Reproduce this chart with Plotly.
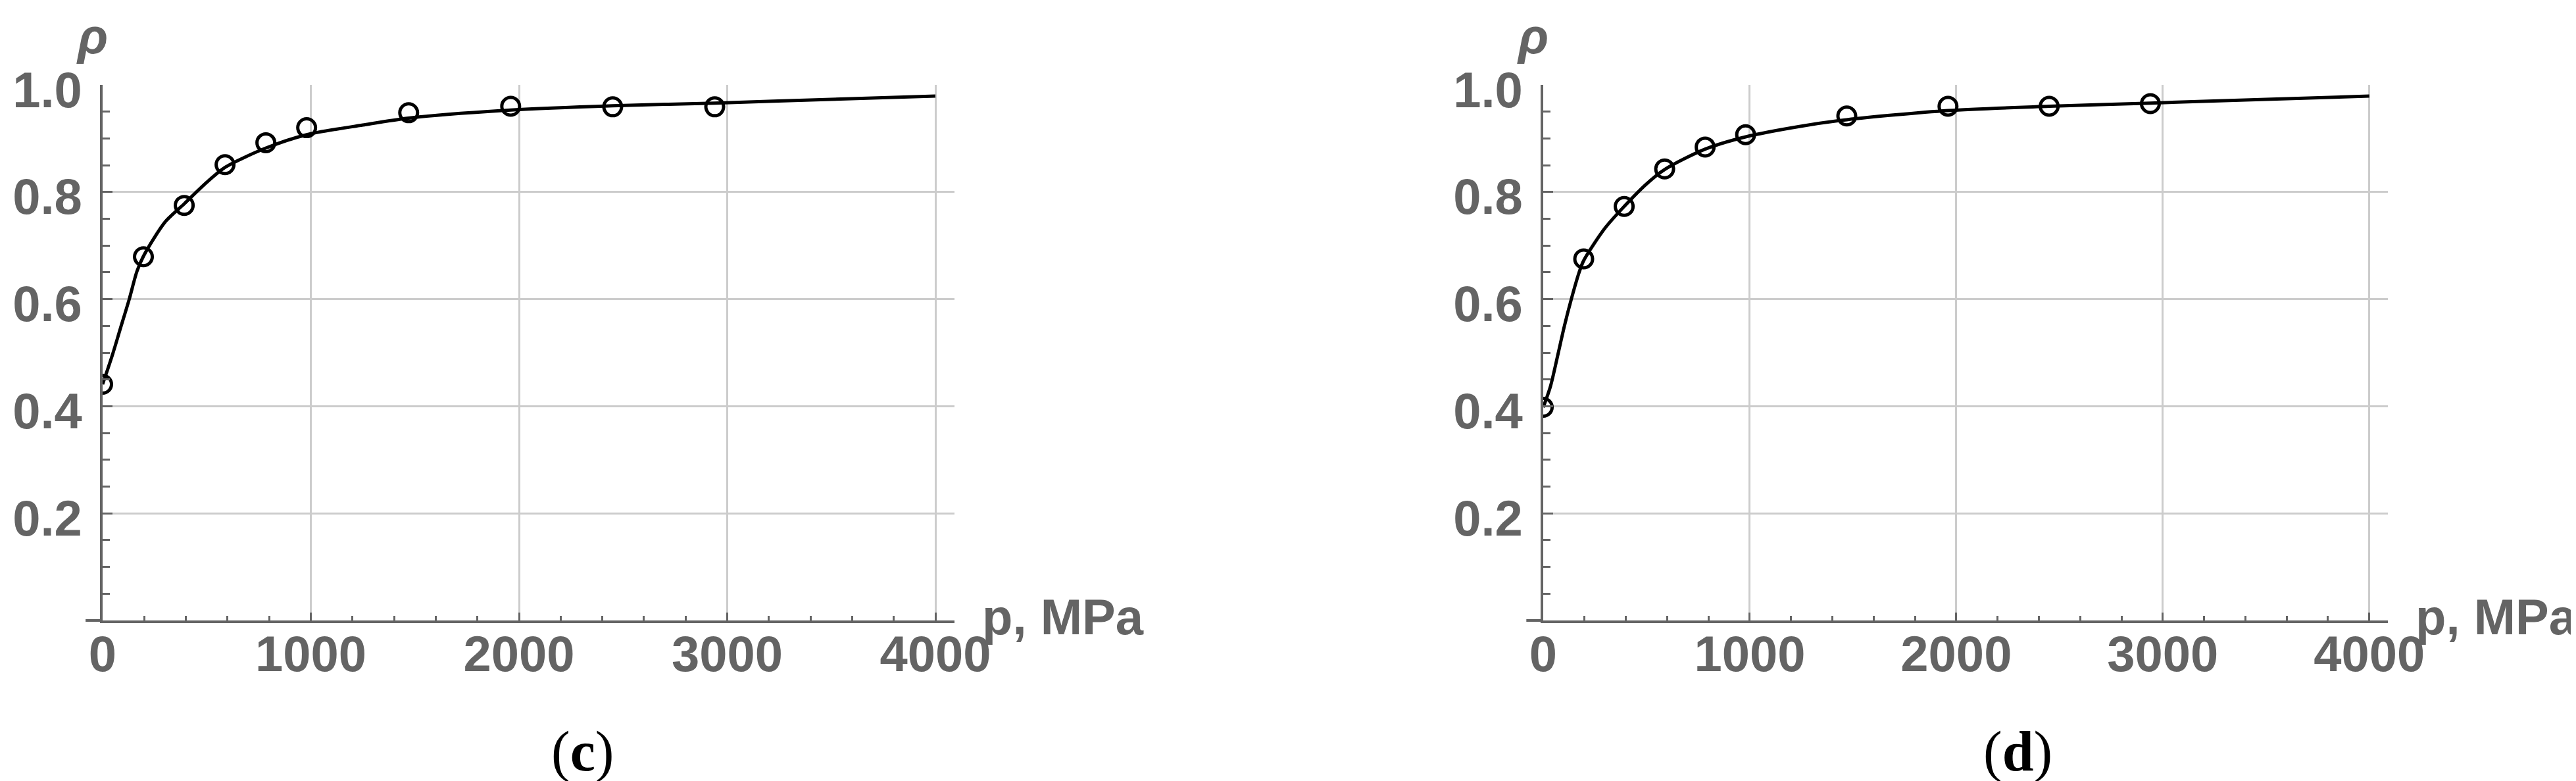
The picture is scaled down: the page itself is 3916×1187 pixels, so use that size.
import plotly.graph_objects as go

# ---------------- data ----------------
# measured points, panel (c)
c_p = [0, 196, 392, 588, 784, 980, 1470, 1960, 2450, 2940]
c_rho = [0.441, 0.679, 0.775, 0.851, 0.892, 0.920, 0.948, 0.960, 0.959, 0.959]
# fitted curve, panel (c)
c_fit_p = [0, 48, 86, 128, 165, 196, 300, 392, 500, 588, 784, 980, 1250, 1470, 1960, 2450, 2940, 3500, 4000]
c_fit_rho = [0.441, 0.497, 0.546, 0.600, 0.652, 0.680, 0.744, 0.778, 0.818, 0.846, 0.882, 0.907, 0.925, 0.938, 0.953, 0.961, 0.966, 0.973, 0.979]

# measured points, panel (d)
d_p = [0, 196, 392, 588, 784, 980, 1470, 1960, 2450, 2940]
d_rho = [0.398, 0.675, 0.773, 0.843, 0.884, 0.907, 0.942, 0.960, 0.960, 0.965]
# fitted curve, panel (d)
d_fit_p = [0, 35, 72, 102, 136, 173, 196, 300, 392, 500, 588, 784, 980, 1250, 1470, 1960, 2450, 2940, 3500, 4000]
d_fit_rho = [0.398, 0.437, 0.498, 0.549, 0.600, 0.649, 0.672, 0.733, 0.773, 0.815, 0.842, 0.880, 0.903, 0.923, 0.935, 0.952, 0.960, 0.966, 0.973, 0.979]

x_tickvals = [0, 1000, 2000, 3000, 4000]
x_ticktext = ["0", "1000", "2000", "3000", "4000"]
y_tickvals = [0.2, 0.4, 0.6, 0.8, 1.0]
y_ticktext = ["0.2", "0.4", "0.6", "0.8", "1.0"]
x_label = "p, MPa"
y_label = "ρ"
panel_labels = ["c", "d"]

# ---------------- style ----------------
W, H = 3916, 1187
AX = "#646464"
GRID = "#cccccc"
FONT = "Liberation Sans, Arial, sans-serif"
TFS = 76

fig = go.Figure()

panels = [
    (c_p, c_rho, c_fit_p, c_fit_rho, "x", "y"),
    (d_p, d_rho, d_fit_p, d_fit_rho, "x2", "y2"),
]
for p, rho, fp, frho, xa, ya in panels:
    fig.add_trace(go.Scatter(x=fp, y=frho, mode="lines", xaxis=xa, yaxis=ya,
                             line=dict(color="black", width=5, shape="spline", smoothing=0.8),
                             showlegend=False, hoverinfo="skip"))
    fig.add_trace(go.Scatter(x=p, y=rho, mode="markers", xaxis=xa, yaxis=ya,
                             marker=dict(symbol="circle-open", size=27, color="black",
                                         line=dict(width=5, color="black")),
                             showlegend=False))

x_domains = [[148 / W, 1442.5 / W], [2338 / W, 3622 / W]]
y_domain = [252 / H, (H - 121) / H]

def xaxis_cfg(dom, anchor):
    return dict(domain=dom, anchor=anchor, range=[0, 4090], showline=True, linecolor=AX, linewidth=4,
                zeroline=False, showgrid=True, gridcolor=GRID, gridwidth=3,
                tickvals=x_tickvals, ticktext=x_ticktext, ticks="inside", ticklen=12, tickwidth=3,
                tickcolor=AX, tickfont=dict(family=FONT, size=TFS, color=AX, weight="bold"),
                ticklabelstandoff=-18,
                minor=dict(dtick=200, tick0=0, ticks="inside", ticklen=7, tickwidth=3,
                           tickcolor=AX, showgrid=False),
                fixedrange=True, automargin=False)

def yaxis_cfg(anchor):
    return dict(domain=y_domain, anchor=anchor, range=[0, 1.0], showline=True, linecolor=AX, linewidth=4,
                zeroline=False, showgrid=True, gridcolor=GRID, gridwidth=3,
                tickvals=y_tickvals, ticktext=y_ticktext, ticks="inside", ticklen=15, tickwidth=3,
                tickcolor=AX, tickfont=dict(family=FONT, size=TFS, color=AX, weight="bold"),
                ticklabelstandoff=12, ticklabelshift=7,
                minor=dict(dtick=0.05, tick0=0, ticks="inside", ticklen=11, tickwidth=3,
                           tickcolor=AX, showgrid=False),
                fixedrange=True, automargin=False)

annotations = []
shapes = []
for i, (xa, ya) in enumerate([("x", "y"), ("x2", "y2")]):
    annotations.append(dict(text=x_label, xref=f"{xa} domain", yref=f"{ya} domain", x=1, y=0,
                            xanchor="left", yanchor="middle", xshift=40, yshift=6, showarrow=False,
                            font=dict(family=FONT, size=TFS, color=AX, weight="bold")))
    annotations.append(dict(text=f"<i>{y_label}</i>", xref=f"{xa} domain", yref=f"{ya} domain", x=0, y=1,
                            xanchor="center", yanchor="bottom", xshift=-16, yshift=31, showarrow=False,
                            borderpad=0,
                            font=dict(family=FONT, size=TFS, color=AX, weight="bold")))
    shapes.append(dict(type="line", xref=f"{xa} domain", yref=f"{ya} domain", x0=-0.02, x1=0, y0=0, y1=0,
                       line=dict(color=AX, width=4)))

label_x = [877 / W, 3059 / W]
for lx, lab in zip(label_x, panel_labels):
    annotations.append(dict(text=f"(<b>{lab}</b>)", xref="paper", yref="paper", x=lx, y=1 - 1134 / H,
                            xanchor="center", yanchor="middle", showarrow=False,
                            font=dict(family="Liberation Serif, Times New Roman, serif", size=86, color="black")))

fig.update_layout(
    width=W, height=H,
    margin=dict(l=0, r=0, t=0, b=0),
    paper_bgcolor="white", plot_bgcolor="white",
    xaxis=xaxis_cfg(x_domains[0], "y"),
    yaxis=yaxis_cfg("x"),
    xaxis2=xaxis_cfg(x_domains[1], "y2"),
    yaxis2=yaxis_cfg("x2"),
    annotations=annotations,
    shapes=shapes,
    showlegend=False,
)

fig.write_html("out.html", config={"displayModeBar": False})
